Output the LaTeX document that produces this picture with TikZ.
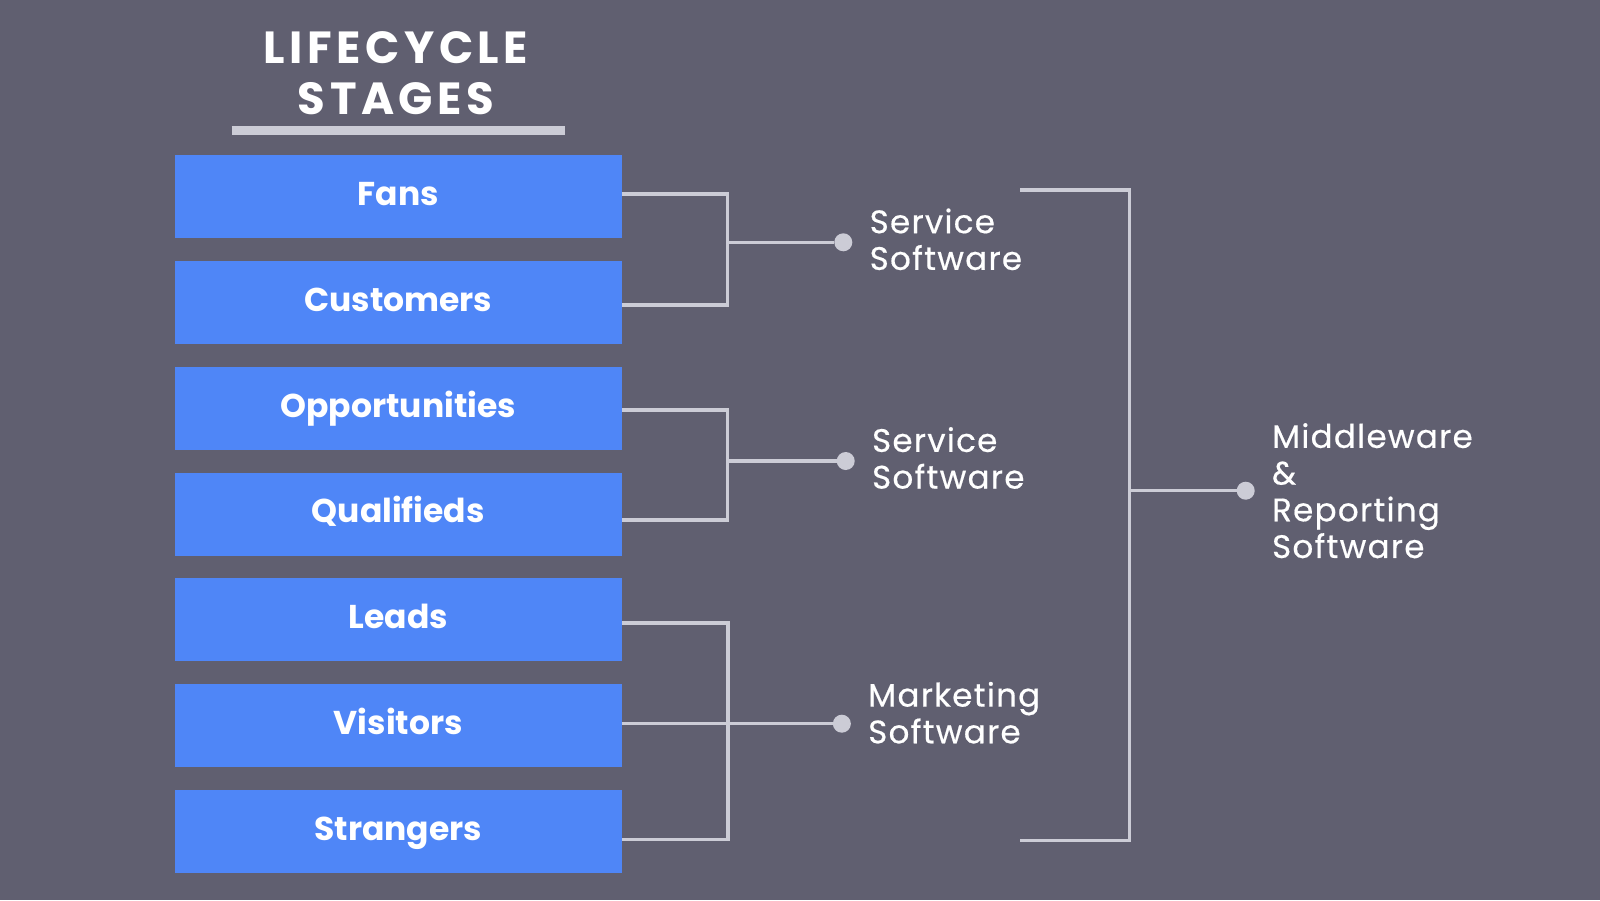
\documentclass[tikz,border=0pt]{standalone}
\usepackage{fontspec}
\setmainfont{Poppins}
\usepackage{tikz}
\usetikzlibrary{positioning}
\definecolor{bgslate}{RGB}{96,95,112}
\definecolor{stageblue}{RGB}{79,134,247}
\definecolor{wiregray}{RGB}{204,204,214}

\begin{document}
\begin{tikzpicture}[
  x=1pt, y=-1pt,
  node distance=22.4pt,
  stage/.style={fill=stageblue, text=white, minimum width=446.7pt, minimum height=83pt,
    inner sep=0pt, text height=17.4pt, text depth=0pt,
    font=\fontsize{33}{40}\selectfont\bfseries},
  headline/.style={text=white, align=center, inner sep=0pt,
    font=\fontsize{45}{51}\selectfont\bfseries\addfontfeatures{LetterSpace=10}},
  wire/.style={wiregray, line width=3.5pt},
  dot/.style={circle, fill=wiregray, minimum size=18pt, inner sep=0pt},
  tool/.style={text=white, align=left, inner sep=0pt,
    font=\fontsize{32.5}{36.7}\selectfont\addfontfeatures{LetterSpace=4,FakeBold=0.5}}
]
\path[use as bounding box, fill=bgslate] (0,0) rectangle (1600,900);

% heading
\node[headline] (title) at (396,73) {LIFECYCLE\\STAGES};
\draw[wiregray, line width=9pt] (231.7,130.5) -- (565,130.5);

% stages
\node[stage] (fans) at (398.3,196.7) {Fans};
\node[stage, below=of fans] (customers) {Customers};
\node[stage, below=of customers] (opps) {Opportunities};
\node[stage, below=of opps] (qualifieds) {Qualifieds};
\node[stage, below=of qualifieds] (leads) {Leads};
\node[stage, below=of leads] (visitors) {Visitors};
\node[stage, below=of visitors] (strangers) {Strangers};

% software
\coordinate (j1) at (727.7,242.3);
\coordinate (j2) at (727.7,461);
\coordinate (j3) at ([xshift=106pt,yshift=2pt]visitors.east);
\node[dot] (svc1) at (843.3,242.3) {};
\node[dot] (svc2) at (845.7,461) {};
\node[dot] (mkt) at ([xshift=220pt,yshift=2pt]visitors.east) {};
\node[tool, right=17pt of svc1, yshift=3pt] (svc1txt) {Service\\Software};
\node[tool, right=17pt of svc2, yshift=3pt] (svc2txt) {Service\\Software};
\node[tool, right=17pt of mkt, yshift=11pt] (mkttxt) {Marketing\\Software};

\draw[wire] ([yshift=2.7pt]fans.east) -| (j1) |- ([yshift=-2.3pt]customers.east);
\draw[wire] (j1) -- (svc1);
\draw[wire] ([yshift=-1.7pt]opps.east) -| (j2) |- ([yshift=-6pt]qualifieds.east);
\draw[wire] (j2) -- (svc2);
\draw[wire] ([yshift=-3pt]leads.east) -| (j3) |- ([yshift=-8pt]strangers.east);
\draw[wire] ([yshift=2pt]visitors.east) -- (mkt);

% middleware
\coordinate (bt) at (1020,190);
\coordinate (bb) at (1020,840.7);
\coordinate (bm) at (1129.3,490.7);
\node[dot] (mw) at (1245.7,490.7) {};
\node[tool, right=17pt of mw] (mwtxt) {Middleware\\\&\\Reporting\\Software};
\draw[wire] (bt) -| (bm) |- (bb);
\draw[wire] (bm) -- (mw);
\end{tikzpicture}
\end{document}
